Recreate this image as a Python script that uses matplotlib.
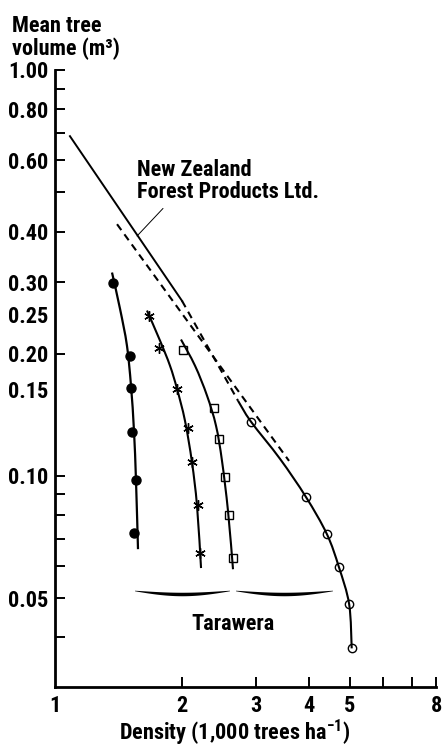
import numpy as np
import matplotlib
matplotlib.use("Agg")
import matplotlib.pyplot as plt
from matplotlib import font_manager
from matplotlib.font_manager import FontProperties
from matplotlib.path import Path
from matplotlib.patches import PathPatch, Polygon
from matplotlib.ticker import FixedLocator, FixedFormatter, NullFormatter
from matplotlib.transforms import IdentityTransform

# ---- data: mean tree volume (m3) vs density (1,000 trees/ha) ----
closed_density = [1.372, 1.506, 1.514, 1.522, 1.556, 1.539]
closed_volume = [0.298, 0.197, 0.165, 0.128, 0.0978, 0.0723]
closed_curve_density = [1.365, 1.426, 1.481, 1.514, 1.539, 1.556, 1.573]
closed_curve_volume = [0.317, 0.258, 0.2094, 0.1668, 0.129, 0.0972, 0.066]

star_density = [1.670, 1.764, 1.946, 2.067, 2.112, 2.182, 2.206]
star_volume = [0.248, 0.207, 0.164, 0.131, 0.108, 0.0848, 0.0645]
star_curve_density = [1.652, 1.774, 1.873, 1.946, 2.033, 2.112, 2.171, 2.219]
star_curve_volume = [0.2555, 0.2154, 0.1869, 0.164, 0.1367, 0.108, 0.0843, 0.0593]

square_density = [2.011, 2.382, 2.448, 2.529, 2.585, 2.642]
square_volume = [0.204, 0.147, 0.123, 0.0994, 0.0801, 0.0628]
square_curve_density = [1.989, 2.147, 2.293, 2.408, 2.488, 2.571, 2.642]
square_curve_volume = [0.2168, 0.1869, 0.1576, 0.1329, 0.1089, 0.0819, 0.0589]

open_density = [2.915, 3.935, 4.41, 4.71, 4.98, 5.05]
open_volume = [0.136, 0.0887, 0.0719, 0.0596, 0.0483, 0.0376]

# New Zealand Forest Products line: solid upper part, dashed link, solid lower curve
nzfp_upper_density = [1.085, 2.0]
nzfp_upper_volume = [0.687, 0.270]
nzfp_link_density = [2.0, 2.715]
nzfp_link_volume = [0.270, 0.1532]
nzfp_lower_density = [2.715, 2.915, 3.414, 3.935, 4.41, 4.71, 4.98, 5.05]
nzfp_lower_volume = [0.1532, 0.136, 0.1102, 0.0887, 0.0719, 0.0596, 0.0483, 0.0376]

dashed_density = [1.403, 3.587]
dashed_volume = [0.417, 0.1089]

# axis ticks
y_tick_marks = [1.0, 0.9, 0.8, 0.7, 0.6, 0.5, 0.4, 0.3, 0.2, 0.1, 0.09, 0.08, 0.07, 0.06, 0.05, 0.04]
y_label_pos = [1.0, 0.8, 0.6, 0.4, 0.3, 0.25, 0.2, 0.163, 0.1, 0.05]
y_label_text = ["1.00", "0.80", "0.60", "0.40", "0.30", "0.25", "0.20", "0.15", "0.10", "0.05"]
x_tick_marks = [2, 3, 4, 5, 6, 7, 8]
x_label_pos = [1, 2, 3, 4, 5, 8]
x_label_text = ["1", "2", "3", "4", "5", "8"]


# ---- font: a condensed bold sans if one is installed ----
def pick_font():
    prefs = ["LiberationSansNarrow-Bold", "NotoSans-CondensedBold", "NotoSans-CondensedSemiBold",
             "Roboto_Condensed-Bold", "RobotoCondensed-Bold", "OpenSans_Condensed-Bold",
             "OpenSans-CondensedBold", "DejaVuSansCondensed-Bold"]
    files = [f.fname for f in font_manager.fontManager.ttflist]
    for p in prefs:
        for fn in files:
            if p.lower() in fn.lower().replace(" ", ""):
                return fn, 16
    for fn in files:
        low = fn.lower()
        if ("condensed" in low or "narrow" in low) and "bold" in low and "extra" not in low:
            return fn, 16
    return None, 13


font_file, FS = pick_font()
if font_file:
    FP = FontProperties(fname=font_file, size=FS)
else:
    FP = FontProperties(family="Liberation Sans", weight="bold", size=FS)

W, H = 443, 747
fig = plt.figure(figsize=(W / 100, H / 100), dpi=100)
ax = fig.add_axes([55 / W, 1 - 687 / H, (436 - 55) / W, (687 - 70) / H])
ax.set_xscale("log")
ax.set_yscale("log")
ax.set_xlim(1, 8)
ax.set_ylim(0.0302, 1.0)

for s in ("top", "right"):
    ax.spines[s].set_visible(False)
for s in ("left", "bottom"):
    ax.spines[s].set_linewidth(2.0)

ax.yaxis.set_major_locator(FixedLocator(y_label_pos))
ax.yaxis.set_major_formatter(FixedFormatter(y_label_text))
ax.yaxis.set_minor_locator(FixedLocator([v for v in y_tick_marks if v not in y_label_pos]))
ax.yaxis.set_minor_formatter(NullFormatter())
ax.tick_params(axis="y", which="both", direction="in", length=7.5, width=1.4, pad=5)
for pos, tk in zip(y_label_pos, ax.yaxis.get_major_ticks()):
    if pos not in y_tick_marks:
        tk.tick1line.set_visible(False)

ax.xaxis.set_major_locator(FixedLocator(x_label_pos))
ax.xaxis.set_major_formatter(FixedFormatter(x_label_text))
ax.xaxis.set_minor_locator(FixedLocator([v for v in x_tick_marks if v not in x_label_pos]))
ax.xaxis.set_minor_formatter(NullFormatter())
ax.tick_params(axis="x", which="both", direction="in", length=7, width=1.4, pad=6)
ax.xaxis.get_major_ticks()[0].tick1line.set_visible(False)

for lab in ax.get_xticklabels() + ax.get_yticklabels():
    lab.set_fontproperties(FP)


# smooth curve through the given points (Catmull-Rom segments in log-log space)
def smooth_path(xs, ys):
    p = np.column_stack([np.log10(xs), np.log10(ys)])
    ext = np.vstack([p[0], p, p[-1]])
    verts = [p[0]]
    codes = [Path.MOVETO]
    for i in range(1, len(ext) - 2):
        c1 = ext[i] + (ext[i + 1] - ext[i - 1]) / 6.0
        c2 = ext[i + 1] - (ext[i + 2] - ext[i]) / 6.0
        verts += [c1, c2, ext[i + 1]]
        codes += [Path.CURVE4] * 3
    return Path(10 ** np.array(verts), codes)


def draw_curve(xs, ys, **kw):
    ax.add_patch(PathPatch(smooth_path(xs, ys), fill=False, color="black", **kw))


DASH = (0, (3.5, 2.5))
ax.plot(nzfp_upper_density, nzfp_upper_volume, color="black", lw=1.4)
ax.plot(nzfp_link_density, nzfp_link_volume, color="black", lw=1.5, linestyle=DASH)
draw_curve(nzfp_lower_density, nzfp_lower_volume, lw=1.5)
ax.plot(dashed_density, dashed_volume, color="black", lw=1.5, linestyle=DASH)
draw_curve(closed_curve_density, closed_curve_volume, lw=1.6)
draw_curve(star_curve_density, star_curve_volume, lw=1.5)
draw_curve(square_curve_density, square_curve_volume, lw=1.5)

ax.plot(closed_density, closed_volume, "o", color="black", ms=6.5, zorder=4)
ax.plot(star_density, star_volume, marker=(6, 2, 0), ls="none", color="black", ms=7.5, mew=1.0, zorder=4)
ax.plot(square_density, square_volume, "s", mfc="none", mec="black", ms=5.5, mew=1.0, zorder=4)
ax.plot(open_density, open_volume, "o", mfc="none", mec="black", ms=6, mew=1.0, zorder=4)

# ---- labels ----
ax.text(1.565, 0.605, "New Zealand\nForest Products Ltd.", fontproperties=FP, va="top", ha="left",
        linespacing=1.05)
ax.annotate("", xy=(1.565, 0.39), xytext=(1.803, 0.456),
            arrowprops=dict(arrowstyle="-", lw=0.7, color="black", shrinkA=0, shrinkB=0))

ax.text(2.642, 0.0431, "Tarawera", fontproperties=FP, ha="center", va="center")


# brace above the Tarawera label, drawn in pixel space
def brace_half(x0, x1, y0, dip, wmax):
    t = np.linspace(0, 1, 60)
    xs = x0 + (x1 - x0) * t
    yc = y0 + dip * np.sin(np.pi * t)
    w = wmax * np.sin(np.pi * t) ** 0.9 + 0.25
    return np.concatenate([xs, xs[::-1]]), np.concatenate([yc + w, (yc - w)[::-1]])


for x0, x1 in ((135, 230), (236, 333)):
    bx, by = brace_half(x0, x1, 591, 3.5, 1.5)
    fig.patches.append(Polygon(np.column_stack([bx, H - by]), closed=True, color="black", lw=0,
                               transform=IdentityTransform(), figure=fig))

fig.text(12 / W, 1 - 15 / H, "Mean tree\nvolume (m\u00b3)", fontproperties=FP, ha="left", va="top",
         linespacing=1.0)
fig.text(235 / W, 1 - 740 / H, "Density (1,000 trees ha$^{\\mathregular{-1}}$)", fontproperties=FP,
         ha="center", va="baseline")

fig.savefig("out.png", dpi=100)
